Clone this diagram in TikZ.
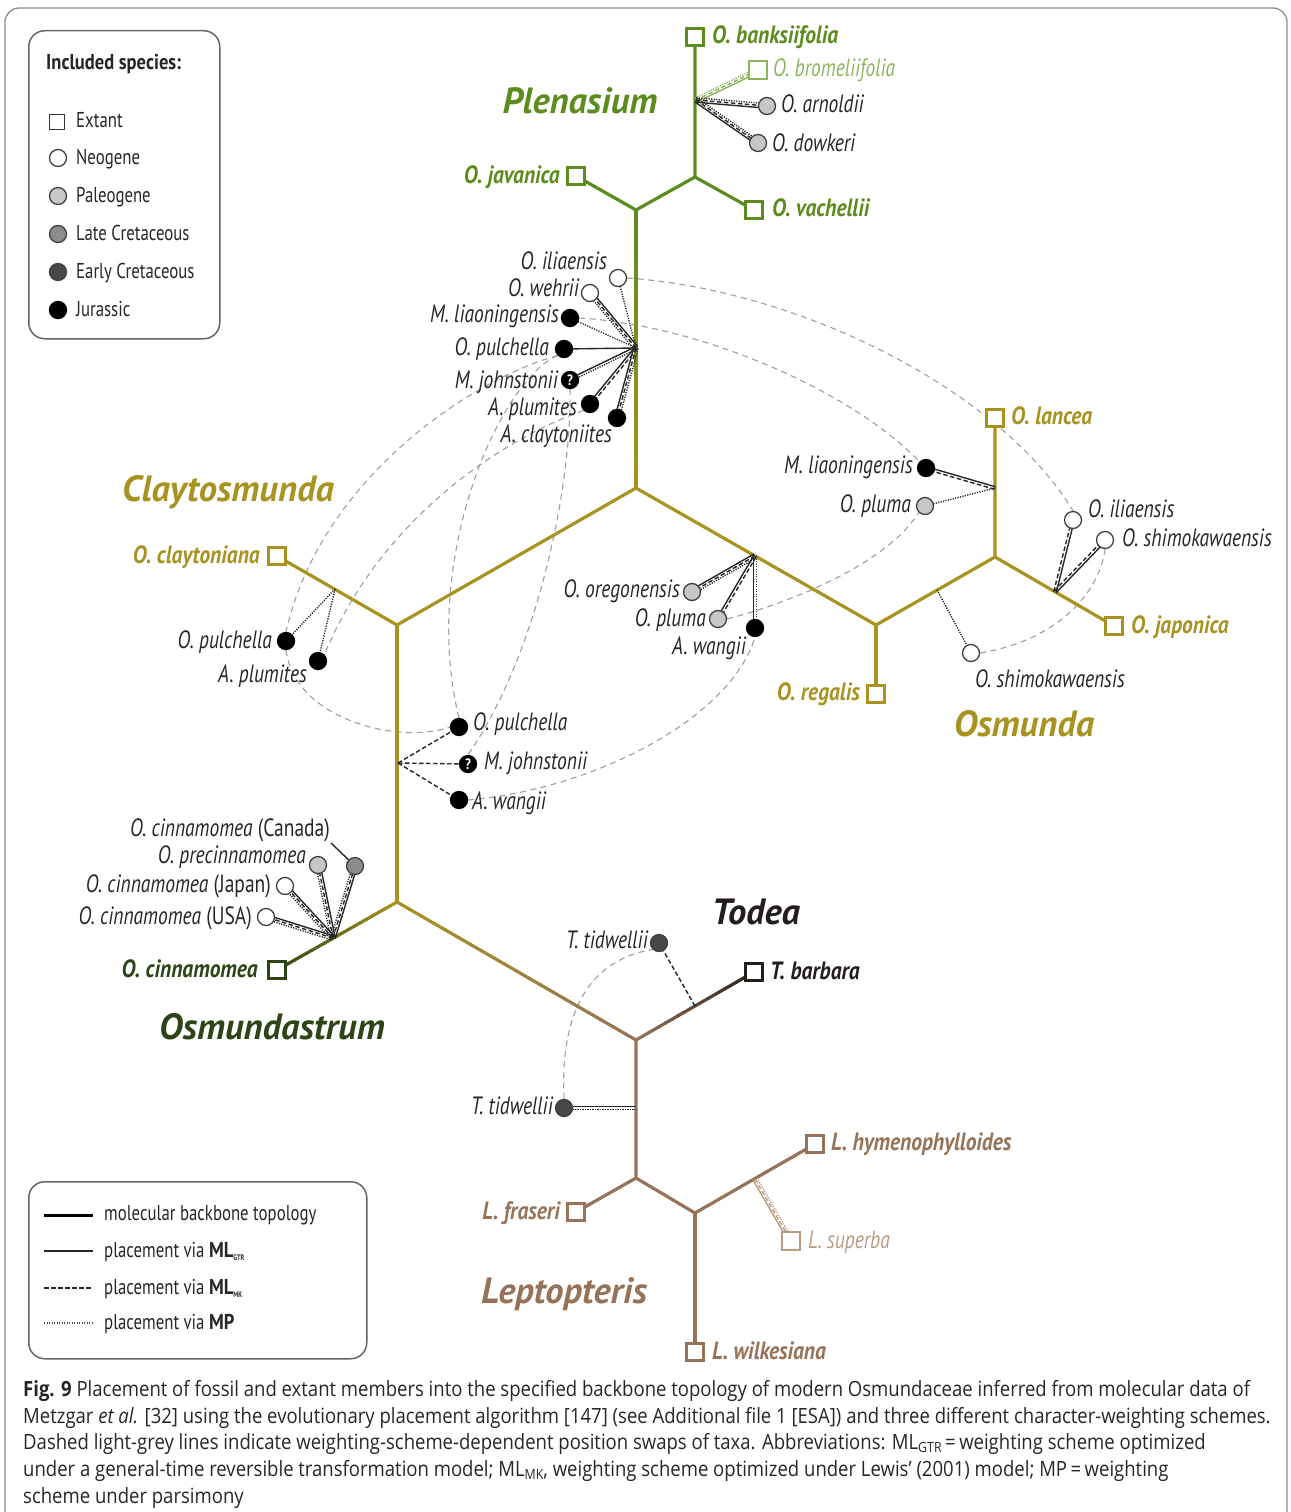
\documentclass[tikz,border=0pt]{standalone}
\usepackage{fontspec}
\usetikzlibrary{calc}
\newfontfamily\lab{PT Sans}[FakeStretch=0.78]
\newfontfamily\labb{PT Sans}[FakeStretch=0.86]
\newfontfamily\clade{PT Sans}
\newfontfamily\capf{Open Sans}[FakeStretch=0.882]
\definecolor{plg}{RGB}{92,140,30}
\definecolor{plgl}{RGB}{140,180,90}
\definecolor{olv}{RGB}{168,146,32}
\definecolor{dgr}{RGB}{44,68,22}
\definecolor{brn}{RGB}{150,115,88}
\definecolor{brnl}{RGB}{185,155,130}
\definecolor{tod}{RGB}{35,30,28}
\pgfdeclarelayer{arcs}\pgfdeclarelayer{lines}\pgfsetlayers{arcs,lines,main}
\tikzset{
 br/.style={line width=3.2pt, line cap=round},
 fl/.style={line width=1.4pt, black!85},
 dsh/.style={dash pattern=on 4.5pt off 2.5pt},
 dtt/.style={dash pattern=on 1.2pt off 1.3pt},
 ext/.style={rectangle, draw, line width=2.9pt, minimum size=16.5pt, inner sep=0pt, fill=white},
 extl/.style={rectangle, draw, line width=1.3pt, minimum size=18pt, inner sep=0pt, fill=white},
 fos/.style={circle, draw=black!75, line width=1.3pt, minimum size=17pt, inner sep=0pt},
 neo/.style={fos, fill=white}, pal/.style={fos, fill=black!22}, lcr/.style={fos, fill=black!45},
 ecr/.style={fos, fill=black!72}, jur/.style={fos, fill=black, draw=black},
 qm/.style={fos, fill=black, draw=black, text=white, font=\labb\bfseries\fontsize{15}{15}\selectfont},
 lbl/.style={font=\lab\itshape\fontsize{25}{25}\selectfont, inner sep=0pt, text=black!85, yshift=-4pt},
 blbl/.style={font=\labb\bfseries\itshape\fontsize{25}{25}\selectfont, inner sep=0pt, yshift=-4pt},
 clab/.style={font=\clade\bfseries\itshape\fontsize{36.5}{36.5}\selectfont, inner sep=0pt},
 swp/.style={draw=black!38, line width=1.1pt, dash pattern=on 6pt off 4.5pt},
 legt/.style={font=\lab\fontsize{21.5}{21.5}\selectfont, inner sep=0pt, text=black!85, anchor=mid west, yshift=-4pt},
 legbox/.style={draw=black!60, line width=1.5pt, rounded corners=16pt, inner sep=0pt, anchor=north west},
 lE/.style={anchor=mid east}, lW/.style={anchor=mid west}
}
\newcommand\pl[4]{\draw[fl,#4] ($(#1)!#3!90:(#2)$) -- ($(#2)!#3!-90:(#1)$);}
\newcommand\fG[3][black!85]{\pl{#2}{#3}{0pt}{#1}}
\newcommand\fK[3][black!85]{\pl{#2}{#3}{0pt}{#1,dsh}}
\newcommand\fP[3][black!85]{\pl{#2}{#3}{0pt}{#1,dtt}}
\newcommand\fGK[3][black!85]{\pl{#2}{#3}{-1.3pt}{#1}\pl{#2}{#3}{1.3pt}{#1,dsh}}
\newcommand\fGP[3][black!85]{\pl{#2}{#3}{-1.3pt}{#1}\pl{#2}{#3}{1.3pt}{#1,dtt}}
\newcommand\fGKP[3][black!85]{\pl{#2}{#3}{-2.2pt}{#1}\pl{#2}{#3}{0pt}{#1,dsh}\pl{#2}{#3}{2.2pt}{#1,dtt}}
\newcommand\grad[4]{%
 \foreach \i [evaluate=\i as \pc using int(\i*5)] in {0,...,19}{%
  \draw[br, line cap=butt, draw=#4!\pc!#3] ($(#1)!\i/20!(#2)$) -- ($(#1)!\i/20+0.055!(#2)$);}}
\begin{document}
\begin{tikzpicture}[x=1pt,y=-1pt]
\useasboundingbox (0,0) rectangle (1290,1512);
\draw[black!45, line width=1.3pt, rounded corners=14pt] (5,8) rectangle (1287,1560);

% ---------- internal nodes ----------
\coordinate (P1) at (695,177); \coordinate (P2) at (636,210);
\coordinate (R) at (636,488); \coordinate (C1) at (397,625); \coordinate (O1) at (876,625);
\coordinate (O2) at (995,557); \coordinate (C2) at (397,902); \coordinate (T1) at (636,1040);
\coordinate (L1) at (636,1178); \coordinate (L2) at (695,1213);
% attachment points
\coordinate (aPl) at (696,100); \coordinate (aT) at (636,348); \coordinate (aLa) at (995,488);
\coordinate (aJa) at (1055,592); \coordinate (aO12) at (937,590); \coordinate (aRO) at (755,556);
\coordinate (aCl) at (335,589); \coordinate (aC) at (398,763); \coordinate (aCi) at (333,938);
\coordinate (aTb) at (695,1006); \coordinate (aTL) at (636,1108); \coordinate (aSu) at (755,1179);

% ---------- Plenasium ----------
\node[ext, draw=plg] (banks) at (695,37) {};
\node[extl, draw=plgl] (brom) at (758,70) {};
\node[pal] (arn) at (767,106) {};
\node[pal] (dow) at (758,143) {};
\node[ext, draw=plg] (jav) at (576,176) {};
\node[ext, draw=plg] (vach) at (754,210) {};
\node[blbl, text=plg, lW] (lbanks) at (712,37) {O. banksiifolia};
\node[lbl, text=plgl, lW] (lbrom) at (773,70) {O. bromeliifolia};
\node[lbl, lW] (larn) at (781,106) {O. arnoldii};
\node[lbl, lW] (ldow) at (772,145) {O. dowkeri};
\node[blbl, text=plg, lE] (ljav) at (560,177) {O. javanica};
\node[blbl, text=plg, lW] (lvach) at (772,210) {O. vachellii};
\node[clab, text=plg] (cPlen) at (580,101) {Plenasium};

% ---------- top fan ----------
\node[neo] (tIli) at (618,278) {};
\node[neo] (tWeh) at (590,293) {};
\node[jur] (tMli) at (570,318) {};
\node[jur] (tPul) at (564,349) {};
\node[qm] (tMjo) at (570,380) {?};
\node[jur] (tApl) at (590,404) {};
\node[jur] (tAcl) at (617,418) {};
\node[lbl, lE] (ltIli) at (607,263) {O. iliaensis};
\node[lbl, lE] (ltWeh) at (579,290) {O. wehrii};
\node[lbl, lE] (ltMli) at (559,316) {M. liaoningensis};
\node[lbl, lE] (ltPul) at (549,349) {O. pulchella};
\node[lbl, lE] (ltMjo) at (558,382) {M. johnstonii};
\node[lbl, lE] (ltApl) at (577,409) {A. plumites};
\node[lbl, lE] (ltAcl) at (612,436) {A. claytoniites};

% ---------- Claytosmunda ----------
\node[ext, draw=olv] (clay) at (277,556) {};
\node[blbl, text=olv, lE] (lclay) at (260,557) {O. claytoniana};
\node[clab, text=olv] (cClay) at (228,492) {Claytosmunda};
\node[jur] (cPul) at (286,641) {};
\node[jur] (cApl) at (318,661) {};
\node[lbl, lE] (lcPul) at (272,642) {O. pulchella};
\node[lbl, lE] (lcApl) at (307,676) {A. plumites};
\node[jur] (lPul) at (459,727) {};
\node[qm] (lMjo) at (468,764) {?};
\node[jur] (lAwa) at (459,800) {};
\node[lbl, lW] (llPul) at (473,724) {O. pulchella};
\node[lbl, lW] (llMjo) at (484,763) {M. johnstonii};
\node[lbl, lW] (llAwa) at (472,803) {A. wangii};

% ---------- Osmunda ----------
\node[ext, draw=olv] (reg) at (876,694) {};
\node[ext, draw=olv] (lan) at (995,418) {};
\node[ext, draw=olv] (jap) at (1114,626) {};
\node[blbl, text=olv, lE] (lreg) at (860,694) {O. regalis};
\node[blbl, text=olv, lW] (llan) at (1011,418) {O. lancea};
\node[blbl, text=olv, lW] (ljap) at (1131,627) {O. japonica};
\node[jur] (oMli) at (926,468) {};
\node[pal] (oPlu) at (925,506) {};
\node[neo] (oIli) at (1073,520) {};
\node[neo] (oShi) at (1105,540) {};
\node[neo] (oShi2) at (971,653) {};
\node[lbl, lE] (loMli) at (913,467) {M. liaoningensis};
\node[lbl, lE] (loPlu) at (911,506) {O. pluma};
\node[lbl, lW] (loIli) at (1088,511) {O. iliaensis};
\node[lbl, lW] (loShi) at (1122,540) {O. shimokawaensis};
\node[lbl] (loShi2) at (1050,675) {O. shimokawaensis};
\node[pal] (rOre) at (692,592) {};
\node[pal] (rPlu) at (718,619) {};
\node[jur] (rAwa) at (755,628) {};
\node[lbl, lE] (lrOre) at (680,591) {O. oregonensis};
\node[lbl, lE] (lrPlu) at (706,620) {O. pluma};
\node[lbl, lE] (lrAwa) at (746,648) {A. wangii};
\node[clab, text=olv] (cOsm) at (1024,724) {Osmunda};

% ---------- Osmundastrum ----------
\node[ext, draw=dgr] (cin) at (277,970) {};
\node[blbl, text=dgr, lE] (lcin) at (258,971) {O. cinnamomea};
\node[lcr] (sCan) at (355,866) {};
\node[pal] (sPre) at (318,865) {};
\node[neo] (sJap) at (285,886) {};
\node[neo] (sUsa) at (266,917) {};
\node[lbl, lE] (lsCan) at (330,830) {O. cinnamomea \upshape(Canada)};
\coordinate (canL) at (331,843);
\node[lbl, lE] (lsPre) at (306,857) {O. precinnamomea};
\node[lbl, lE] (lsJap) at (271,886) {O. cinnamomea \upshape(Japan)};
\node[lbl, lE] (lsUsa) at (252,918) {O. cinnamomea \upshape(USA)};
\node[clab, text=dgr] (cOsa) at (272,1027) {Osmundastrum};

% ---------- Todea ----------
\node[ext, draw=tod] (bar) at (754,972) {};
\node[blbl, text=tod, lW] (lbar) at (770,973) {T. barbara};
\node[ecr] (tT1) at (659,943) {};
\node[ecr] (tT2) at (564,1108) {};
\node[lbl, lE] (ltT1) at (648,942) {T. tidwellii};
\node[lbl, lE] (ltT2) at (553,1108) {T. tidwellii};
\node[clab, text=tod] (cTod) at (756,912) {Todea};

% ---------- Leptopteris ----------
\node[ext, draw=brn] (hym) at (815,1144) {};
\node[ext, draw=brn] (fra) at (576,1212) {};
\node[extl, draw=brnl] (sup) at (791,1241) {};
\node[ext, draw=brn] (wil) at (695,1352) {};
\node[blbl, text=brn, lW] (lhym) at (831,1144) {L. hymenophylloides};
\node[blbl, text=brn, lE] (lfra) at (560,1213) {L. fraseri};
\node[lbl, text=brnl, lW] (lsup) at (808,1242) {L. superba};
\node[blbl, text=brn, lW] (lwil) at (712,1353) {L. wilkesiana};
\node[clab, text=brn] (cLep) at (564,1294) {Leptopteris};

% ---------- backbone ----------
\begin{pgfonlayer}{lines}
\draw[br, plg] (banks) -- (P1) -- (vach);
\draw[br, plg] (P1) -- (P2) -- (jav);
\grad{P2}{R}{plg}{olv}
\draw[br, olv] (clay) -- (C1) -- (R) -- (O1) -- (O2) -- (lan);
\draw[br, olv] (O2) -- (jap);
\draw[br, olv] (O1) -- (reg);
\draw[br, olv] (C1) -- (C2);
\grad{C2}{cin}{olv}{dgr}
\grad{C2}{T1}{olv}{brn}
\grad{T1}{bar}{brn}{tod}
\draw[br, brn] (T1) -- (L1) -- (L2) -- (hym);
\draw[br, brn] (L1) -- (fra);
\draw[br, brn] (L2) -- (wil);
% fossil placements
\fGKP[plgl]{aPl}{brom}
\fGKP{aPl}{arn}
\fGKP{aPl}{dow}
\fP{aT}{tIli}
\fGKP{aT}{tWeh}
\fP{aT}{tMli}
\fG{aT}{tPul}
\fGP{aT}{tMjo}
\fGK{aT}{tApl}
\fGKP{aT}{tAcl}
\fGK{aLa}{oMli}
\fP{aLa}{oPlu}
\fGK{aJa}{oIli}
\fGK{aJa}{oShi}
\fP{aO12}{oShi2}
\fGKP{aRO}{rOre}
\fGK{aRO}{rPlu}
\fGP{aRO}{rAwa}
\fP{aCl}{cPul}
\fP{aCl}{cApl}
\fK{aC}{lPul}
\fK{aC}{lMjo}
\fK{aC}{lAwa}
\fGKP{aCi}{sCan}
\fGKP{aCi}{sPre}
\fGKP{aCi}{sJap}
\fGKP{aCi}{sUsa}
\fG{canL}{sCan}
\fK{aTb}{tT1}
\fGP{aTL}{tT2}
\fGKP[brnl]{aSu}{sup}
\end{pgfonlayer}

% ---------- position swaps ----------
\begin{pgfonlayer}{arcs}
\draw[swp] (tIli.east) .. controls (800,290) and (1000,390) .. (oIli.north);
\draw[swp] (tMli.east) .. controls (700,325) and (850,390) .. (oMli.north west);
\draw[swp] (tPul.south west) .. controls (470,380) and (320,480) .. (cPul.north);
\draw[swp] (tPul.south west) .. controls (500,380) and (420,560) .. (lPul.north);
\draw[swp] (tApl.south west) .. controls (500,440) and (380,520) .. (cApl.north east);
\draw[swp] (cPul.south) .. controls (295,720) and (400,745) .. (lPul.west);
\draw[swp] (tMjo.south) .. controls (572,480) and (540,650) .. (lMjo.north);
\draw[swp] (lAwa.east) .. controls (590,790) and (730,720) .. (rAwa.south);
\draw[swp] (rPlu.east) .. controls (800,600) and (890,560) .. (oPlu.south west);
\draw[swp] (oShi2.east) .. controls (1060,640) and (1100,590) .. (oShi.south);
\draw[swp] (tT2.north) .. controls (560,1010) and (590,960) .. (tT1.south west);
\end{pgfonlayer}

% ---------- legend 1 ----------
\node[legbox, minimum width=191pt, minimum height=308pt] (leg1) at (28,30) {};
\node[legt, font=\labb\bfseries\fontsize{21.5}{21.5}\selectfont] (lgT) at (46,63) {Included species:};
\node[rectangle, draw=black!80, line width=1.3pt, minimum size=15pt, inner sep=0pt] (lgE) at (57,122) {};
\node[neo] (lgN) at (58,158) {};
\node[pal] (lgP) at (58,196) {};
\node[lcr] (lgL) at (58,234) {};
\node[ecr] (lgC) at (58,272) {};
\node[jur] (lgJ) at (58,310) {};
\node[legt] (tE) at (76,121) {Extant};
\node[legt] (tN) at (76,158) {Neogene};
\node[legt] (tP) at (76,196) {Paleogene};
\node[legt] (tL) at (76,234) {Late Cretaceous};
\node[legt] (tC) at (76,272) {Early Cretaceous};
\node[legt] (tJ) at (76,310) {Jurassic};

% ---------- legend 2 ----------
\node[legbox, minimum width=338pt, minimum height=177pt] (leg2) at (28,1181) {};
\coordinate (k1a) at (44,1215); \coordinate (k1b) at (93,1215);
\coordinate (k2a) at (44,1251); \coordinate (k2b) at (93,1251);
\coordinate (k3a) at (44,1288); \coordinate (k3b) at (93,1288);
\coordinate (k4a) at (44,1323); \coordinate (k4b) at (93,1323);
\draw[black, line width=3pt] (k1a) -- (k1b);
\draw[black!85, line width=1.5pt] (k2a) -- (k2b);
\draw[black!85, line width=1.3pt, dash pattern=on 4.5pt off 2.5pt] (k3a) -- (k3b);
\draw[black!70, line width=1.1pt, dash pattern=on 1.2pt off 1.3pt] (k4a) -- (k4b);
\node[legt] (tk1) at (104,1214) {molecular backbone topology};
\node[legt] (tk2) at (104,1251) {placement via {\labb\bfseries ML}\raisebox{-3pt}{\fontsize{8}{8}\selectfont\bfseries GTR}};
\node[legt] (tk3) at (104,1288) {placement via {\labb\bfseries ML}\raisebox{-3pt}{\fontsize{8}{8}\selectfont\bfseries MK}};
\node[legt] (tk4) at (104,1323) {placement via {\labb\bfseries MP}};

% ---------- caption ----------
\node[anchor=north west, inner sep=0pt, align=left, text=black!85,
  font=\capf\fontsize{21}{26.8}\selectfont] (cap) at (23,1380) {%
\textbf{Fig. 9} Placement of fossil and extant members into the specified backbone topology of modern Osmundaceae inferred from molecular data of\\
Metzgar \textit{et al.} [32] using the evolutionary placement algorithm [147] (see Additional file 1 [ESA]) and three different character-weighting schemes.\\
Dashed light-grey lines indicate weighting-scheme-dependent position swaps of taxa. Abbreviations: ML\raisebox{-3pt}{\fontsize{14}{14}\selectfont GTR}\,=\,weighting scheme optimized\\
under a general-time reversible transformation model; ML\raisebox{-3pt}{\fontsize{14}{14}\selectfont MK}, weighting scheme optimized under Lewis’ (2001) model; MP\,=\,weighting\\
scheme under parsimony};
\end{tikzpicture}
\end{document}
